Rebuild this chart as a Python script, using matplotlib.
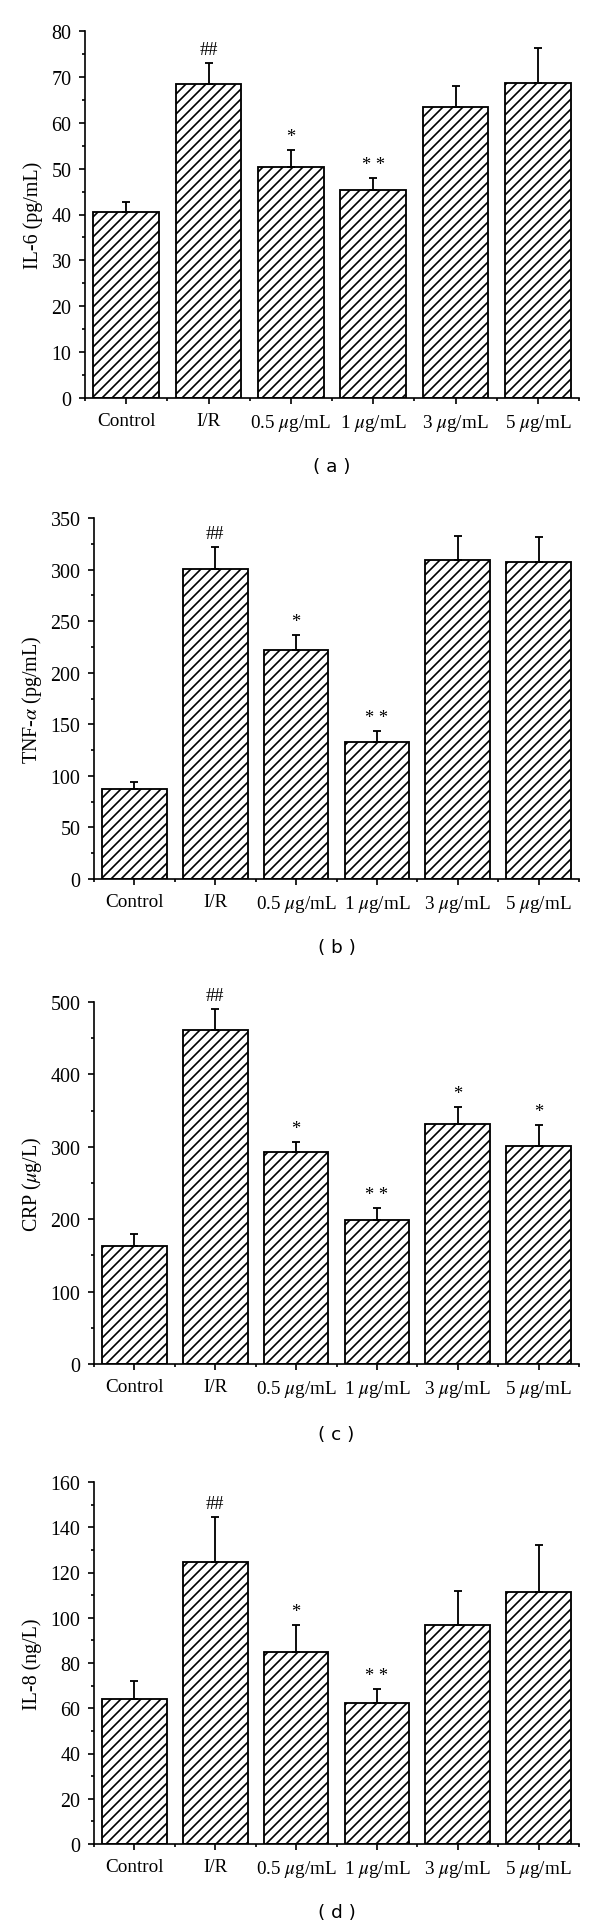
import matplotlib
matplotlib.use("Agg")
import matplotlib.pyplot as plt
from matplotlib.ticker import MultipleLocator, FixedLocator
import numpy as np

categories = ["Control", "I/R", r"0.5 $\mu$g/mL", r"1 $\mu$g/mL", r"3 $\mu$g/mL", r"5 $\mu$g/mL"]

il6_values = [40.6, 68.5, 50.3, 45.3, 63.5, 68.7]
il6_errors = [2.2, 4.6, 3.7, 2.6, 4.6, 7.6]

tnf_values = [87.7, 300.5, 221.9, 133.0, 309.6, 307.7]
tnf_errors = [6.4, 21.7, 14.3, 10.6, 23.3, 24.2]

crp_values = [162.7, 461.3, 293.5, 199.5, 330.9, 301.4]
crp_errors = [16.6, 28.6, 13.4, 15.7, 24.4, 29.0]

il8_values = [63.9, 124.7, 84.7, 62.1, 96.8, 111.4]
il8_errors = [8.3, 19.9, 12.3, 6.5, 15.2, 20.9]

marks_a = ["", "##", "*", "* *", "", ""]
marks_b = ["", "##", "*", "* *", "", ""]
marks_c = ["", "##", "*", "* *", "*", "*"]
marks_d = ["", "##", "*", "* *", "", ""]

ylabels = ["IL-6 (pg/mL)", r"TNF-$\alpha$ (pg/mL)", r"CRP ($\mu$g/L)", "IL-8 (ng/L)"]
captions = ["( a )", "( b )", "( c )", "( d )"]
ymaxes = [80, 350, 500, 160]
ymajor = [10, 50, 100, 20]

plt.rcParams["font.family"] = ["Liberation Serif", "DejaVu Serif"]
plt.rcParams["mathtext.fontset"] = "stix"
plt.rcParams["hatch.linewidth"] = 1.0
plt.rcParams["hatch.color"] = "black"

W, H = 600, 1931
DPI = 120
fig = plt.figure(figsize=(W / DPI, H / DPI), dpi=DPI)

# axes boxes in pixels: (left, right, top, bottom)
boxes = [(85, 579, 32, 399), (94, 579, 519, 880), (94, 579, 1003, 1365), (94, 579, 1483, 1845)]
label_x = [33, 32, 32, 32]
caption_y = [467, 948, 1435, 1913]

datasets = [
    (il6_values, il6_errors, marks_a),
    (tnf_values, tnf_errors, marks_b),
    (crp_values, crp_errors, marks_c),
    (il8_values, il8_errors, marks_d),
]

x = np.arange(len(categories))
for i, ((vals, errs, marks), (l, r, t, b)) in enumerate(zip(datasets, boxes)):
    ax = fig.add_axes([l / W, 1 - b / H, (r - l) / W, (b - t) / H])
    ax.bar(x, vals, width=0.8, color="white", edgecolor="black",
           linewidth=1.1, hatch="////", zorder=2)
    ax.errorbar(x, vals, yerr=[np.zeros(len(vals)), errs], fmt="none",
                ecolor="black", elinewidth=1.1, capsize=2.4, capthick=1.1, zorder=3)
    for xi, v, e, m in zip(x, vals, errs, marks):
        if m:
            ax.annotate(m, (xi, v + e), xytext=(0, 3), textcoords="offset points",
                        ha="center", va="bottom", fontsize=11)
    ax.set_xlim(-0.5, 5.5)
    ax.set_ylim(0, ymaxes[i])
    ax.set_xticks(x)
    ax.set_xticklabels(categories, fontsize=11.5)
    ax.xaxis.set_minor_locator(FixedLocator(np.arange(-0.5, 6.0, 1.0)))
    ax.yaxis.set_major_locator(MultipleLocator(ymajor[i]))
    ax.yaxis.set_minor_locator(MultipleLocator(ymajor[i] / 2))
    for s in ["top", "right"]:
        ax.spines[s].set_visible(False)
    for s in ["left", "bottom"]:
        ax.spines[s].set_linewidth(1.0)
    ax.tick_params(axis="both", which="major", direction="out", length=3.6, width=1.0)
    ax.tick_params(axis="y", which="major", labelsize=12, pad=4.5)
    ax.tick_params(axis="x", which="major", pad=5)
    ax.tick_params(axis="both", which="minor", direction="out", length=1.8, width=1.0)
    ax.set_ylabel(ylabels[i], fontsize=12)
    ax.yaxis.label.set_va("center")
    ax.yaxis.set_label_coords((label_x[i] - l) / (r - l), 0.5)
    fig.text(((l + r) / 2) / W, 1 - caption_y[i] / H, captions[i],
             ha="center", va="center", fontsize=11, family=["DejaVu Sans"])

fig.savefig("out.png", dpi=DPI)
